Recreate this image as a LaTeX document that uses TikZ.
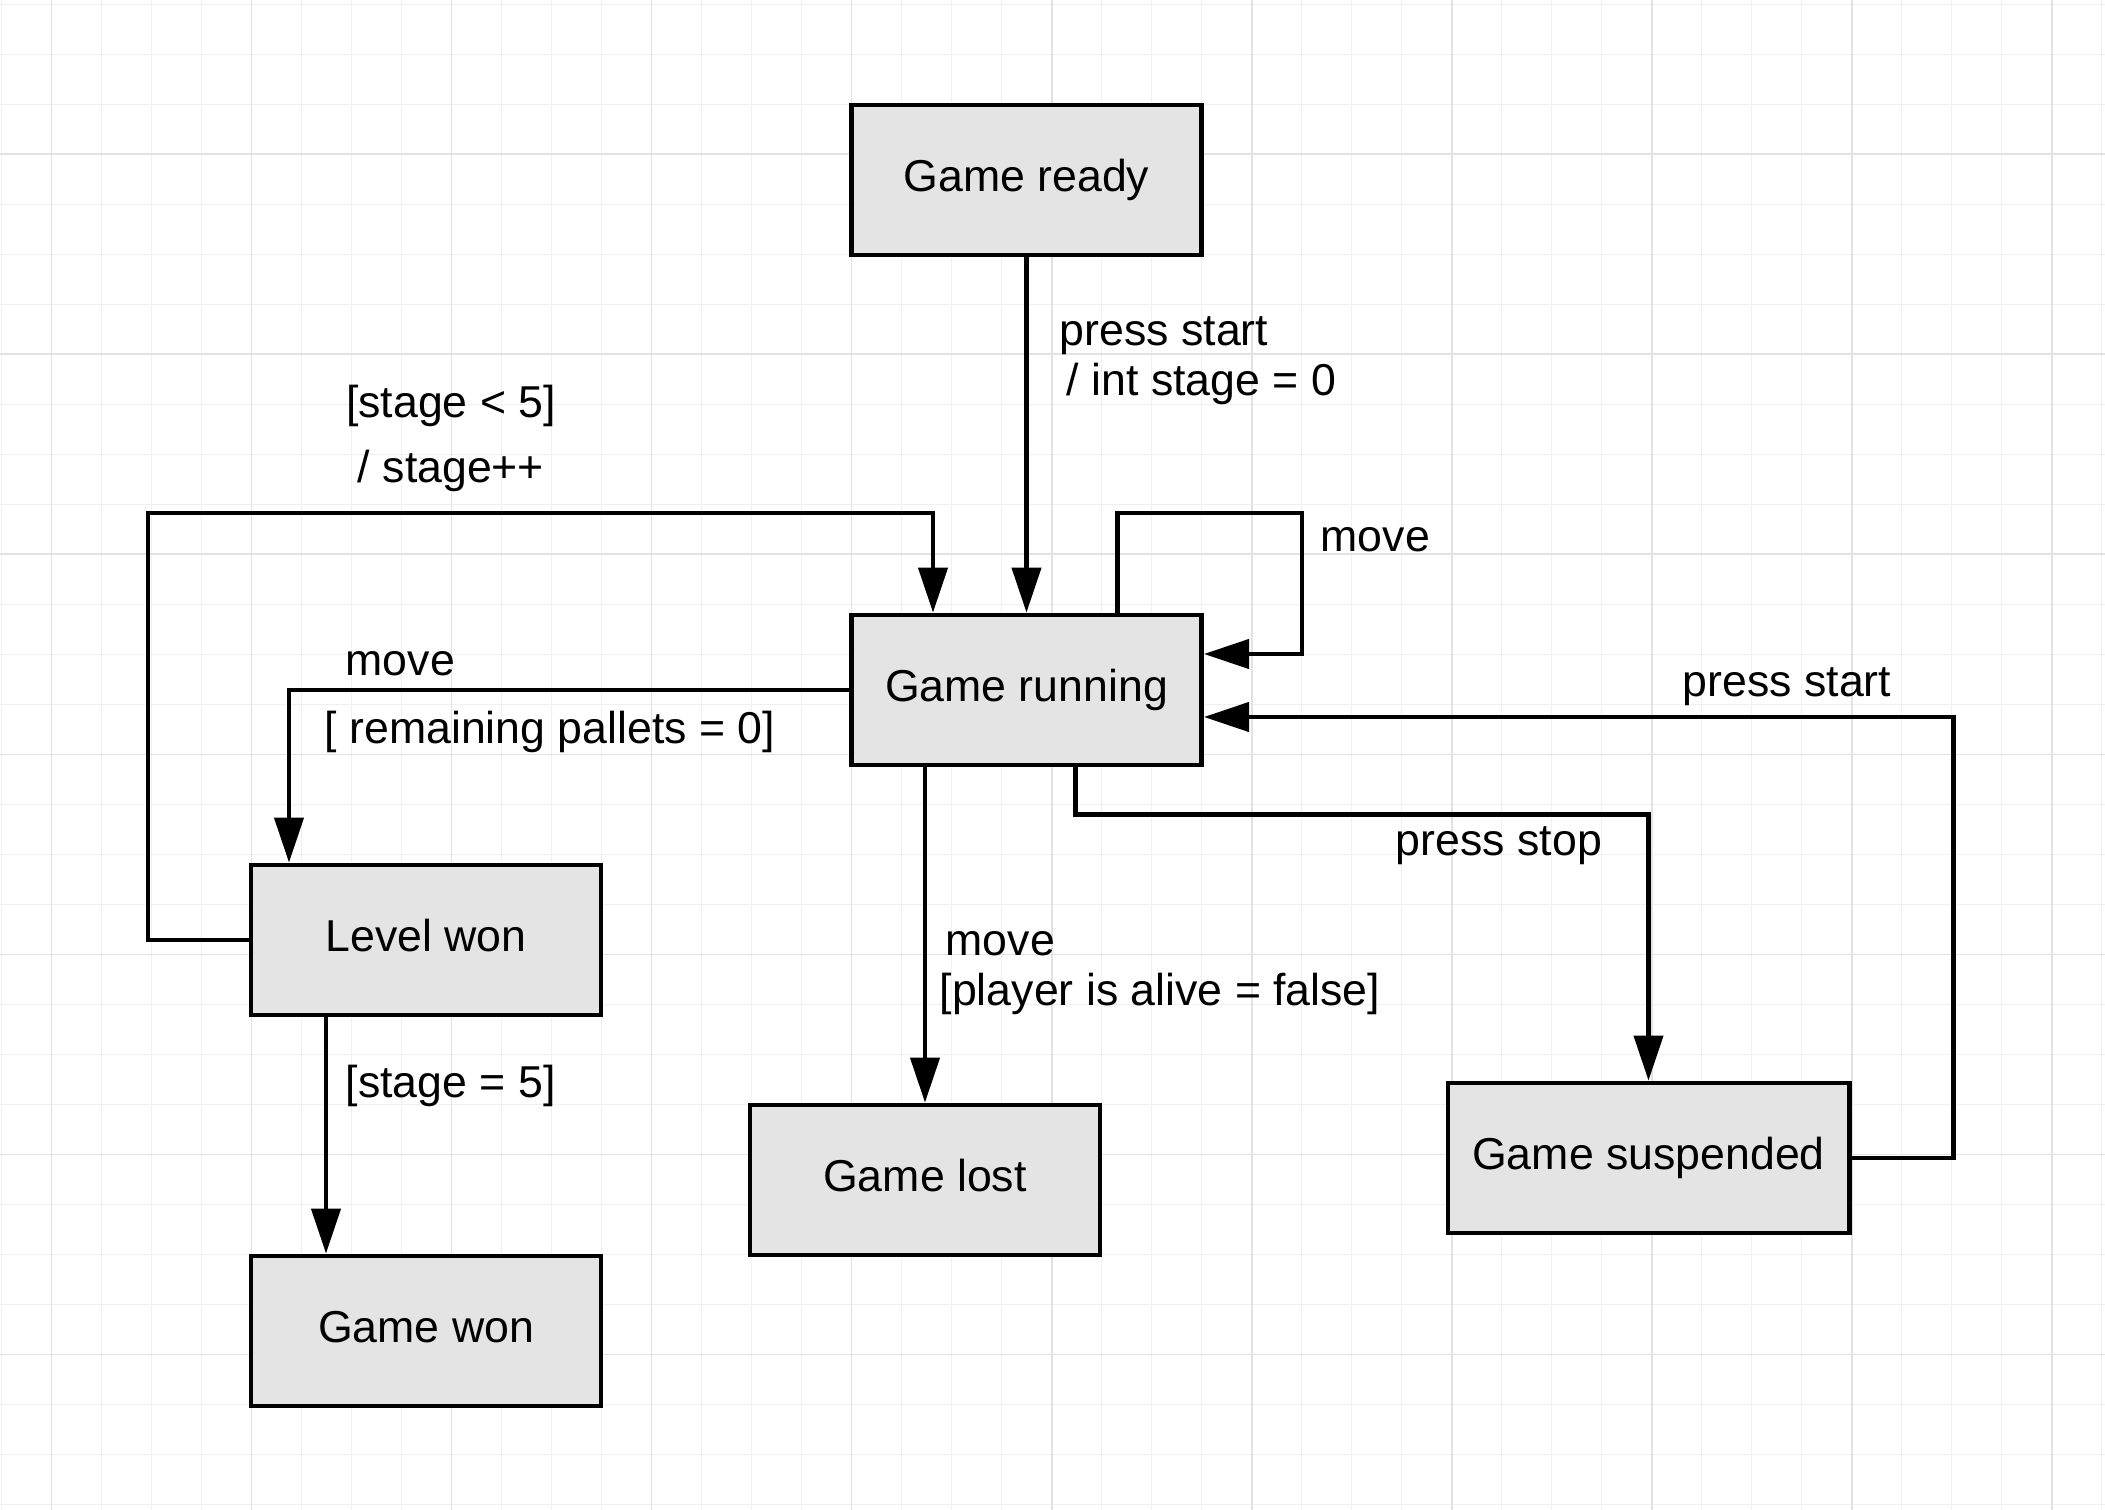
\documentclass[tikz,border=0pt]{standalone}
\usepackage{fontspec}
\setmainfont{Liberation Sans}
\usetikzlibrary{arrows.meta,calc}
\definecolor{boxgray}{HTML}{E4E4E4}
\definecolor{gridminor}{HTML}{F0F0F0}
\definecolor{gridmajor}{HTML}{E2E2E2}
\newcommand{\diafont}{\fontsize{12.7}{14.2}\selectfont}
\tikzset{
  state/.style={draw, line width=1.35pt, fill=boxgray, minimum width=3.5cm,
    minimum height=1.5cm, inner sep=0pt, font=\diafont,
    text height=9.3pt, text depth=3pt},
  trans/.style={line width=1.2pt, -{Triangle[length=0.45cm,width=0.29cm]}},
  guard/.style={inner sep=0pt, font=\diafont, align=left},
}

\begin{document}
\begin{tikzpicture}[x=0.01cm, y=-0.01cm]
\useasboundingbox (0,0) rectangle (2105,1510);
\fill[white] (0,0) rectangle (2105,1510);

% background grid
\foreach \gx in {1.7,51.7,...,2105} \draw[gridminor, line width=0.35pt] (\gx,0) -- (\gx,1510);
\foreach \gy in {4.3,54.3,...,1510} \draw[gridminor, line width=0.35pt] (0,\gy) -- (2105,\gy);
\foreach \gx in {51.7,251.7,...,2105} \draw[gridmajor, line width=0.45pt] (\gx,0) -- (\gx,1510);
\foreach \gy in {154.3,354.3,...,1510} \draw[gridmajor, line width=0.45pt] (0,\gy) -- (2105,\gy);

% states
\node[state] (ready) at (1026.5,180) {Game ready};
\node[state] (run) at (1026.5,690) {Game running};
\node[state] (lwon) at (426,940) {Level won};
\node[state] (gwon) at (426,1331) {Game won};
\node[state] (lost) at (925,1180) {Game lost};
\node[state, minimum width=4.01cm] (susp) at (1648.5,1158) {Game suspended};

% bends
\coordinate (wonbend) at (148,513);
\coordinate (selfbend) at (1302,513);

% transitions
\draw[trans] (ready) -- (run);
\draw[trans] (lwon.west) -| (wonbend) -| ($(run.north)+(-93.5,0)$);
\draw[trans] ($(run.north)+(91,0)$) |- (selfbend) |- ($(run.east)+(0,-36)$);
\draw[trans] (run.west) -| ($(lwon.north)+(-137,0)$);
\draw[trans] (lost.north |- run.south) -- (lost.north);
\draw[trans] ($(run.south)+(49,0)$) -- ++(0,47) -| (susp.north);
\draw[trans] (susp.east) -- ++(102,0) |- ($(run.east)+(0,27)$);
\draw[trans] ($(lwon.south)+(-100,0)$) -- ($(gwon.north)+(-100,0)$);

% labels
\node[guard, anchor=west] (tstart) at (1059,361) {press start\\\hspace*{0.07cm}/ int stage = 0};
\node[guard, align=center] (tnext) at (451,438) {{[}stage < 5{]}\\[4.3pt]/ stage++};
\node[guard, anchor=west] (tself) at (1320,540) {move};
\node[guard, anchor=west] (tclear) at (324,702) {\hspace*{0.21cm}move\\[5.3pt]{[} remaining pallets = 0{]}};
\node[guard, anchor=west] (tdead) at (939,973) {\hspace*{0.06cm}move\\{[}player is alive = false{]}};
\node[guard] (tstop) at (1499,846) {press stop};
\node[guard] (tresume) at (1787,687) {press start};
\node[guard, anchor=west] (tfinal) at (345,1085.5) {{[}stage = 5{]}};
\end{tikzpicture}
\end{document}
